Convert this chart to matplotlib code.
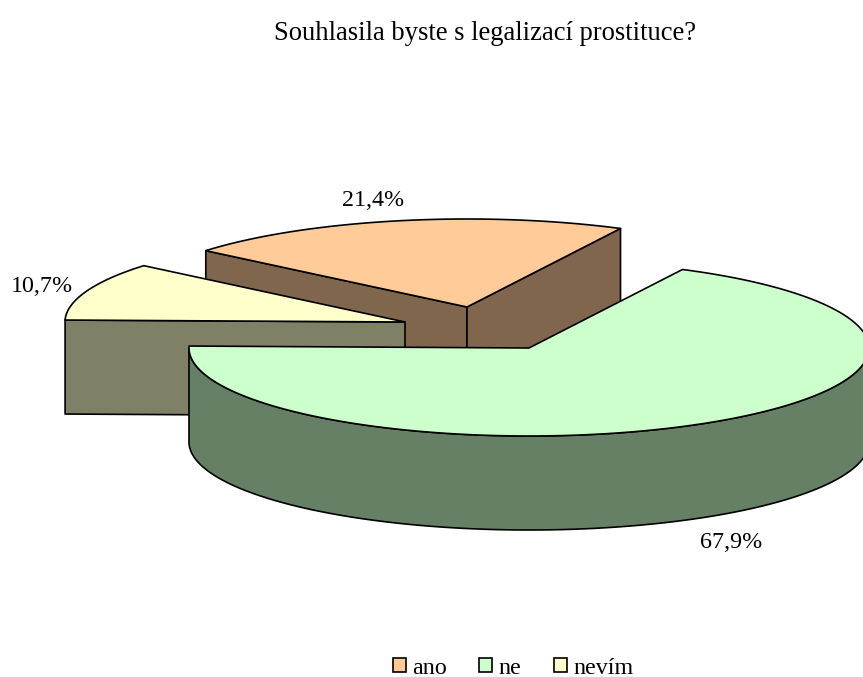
import numpy as np
import matplotlib
matplotlib.use('Agg')
import matplotlib.pyplot as plt
from matplotlib.patches import Polygon, Rectangle

plt.rcParams['font.family'] = ['Liberation Serif', 'DejaVu Serif']

title = 'Souhlasila byste s legalizací prostituce?'
labels = ['ano', 'ne', 'nevím']
values = [21.4, 67.9, 10.7]
value_labels = ['21,4%', '67,9%', '10,7%']
top_colors = ['#FFCC99', '#CCFFCC', '#FFFFCC']
side_colors = ['#80664D', '#668066', '#808066']

# layout in image pixels
W, H = 863, 677
RX, RY, DEPTH = 340, 88, 94
# slice centres, exploded pie
centres = {'ano': (467, 307), 'ne': (529, 348), 'nevím': (405, 322)}
start = 140.2   # angle where the first slice begins, goes clockwise
label_pos = {'ano': (373, 200), 'ne': (731, 543), 'nevím': (42, 286)}

fig = plt.figure(figsize=(W / 100, H / 100), dpi=100)
ax = fig.add_axes([0, 0, 1, 1])
ax.set_xlim(0, W)
ax.set_ylim(H, 0)
ax.axis('off')


def arc(c, a1, a2, n=200):
    t = np.radians(np.linspace(a1, a2, n))
    return np.column_stack([c[0] + RX * np.cos(t), c[1] - RY * np.sin(t)])


def draw_slice(name, a1, a2, side, top):
    c = np.array(centres[name], dtype=float)
    down = np.array([0, DEPTH])
    edge = arc(c, a1, a2)
    kw = dict(edgecolor='black', linewidth=1.2, joinstyle='round')
    # cut walls, only those facing the viewer
    if np.cos(np.radians(a1)) < 0:
        ax.add_patch(Polygon([c, edge[0], edge[0] + down, c + down], facecolor=side, **kw))
    if np.cos(np.radians(a2)) > 0:
        ax.add_patch(Polygon([c, edge[-1], edge[-1] + down, c + down], facecolor=side, **kw))
    # outer wall, only the front part of the rim shows
    hi, lo = min(a1, 0), max(a2, -180)
    if hi > lo:
        rim = arc(c, hi, lo)
        ax.add_patch(Polygon(np.vstack([rim, (rim + down)[::-1]]), facecolor=side, **kw))
    ax.add_patch(Polygon(np.vstack([c, edge]), facecolor=top, **kw))


# angles out of the values
sweeps = [v / sum(values) * 360 for v in values]
angles = {}
a = start
for name, s in zip(labels, sweeps):
    angles[name] = (a, a - s)
    a -= s

# back to front
for name in ['ano', 'nevím', 'ne']:
    i = labels.index(name)
    draw_slice(name, angles[name][0], angles[name][1], side_colors[i], top_colors[i])

for name, txt in zip(labels, value_labels):
    ax.text(*label_pos[name], txt, fontsize=17.3, ha='center', va='center')

ax.text(485, 33, title, fontsize=19.2, ha='center', va='center')

# legend
legend_x = [393, 479, 554]
for x, name, col in zip(legend_x, labels, top_colors):
    ax.add_patch(Rectangle((x, 658), 13, 14, facecolor=col, edgecolor='black', linewidth=1.2))
    ax.text(x + 19, 668, name, fontsize=17.3, ha='left', va='center')

fig.savefig('out.png', dpi=100)
